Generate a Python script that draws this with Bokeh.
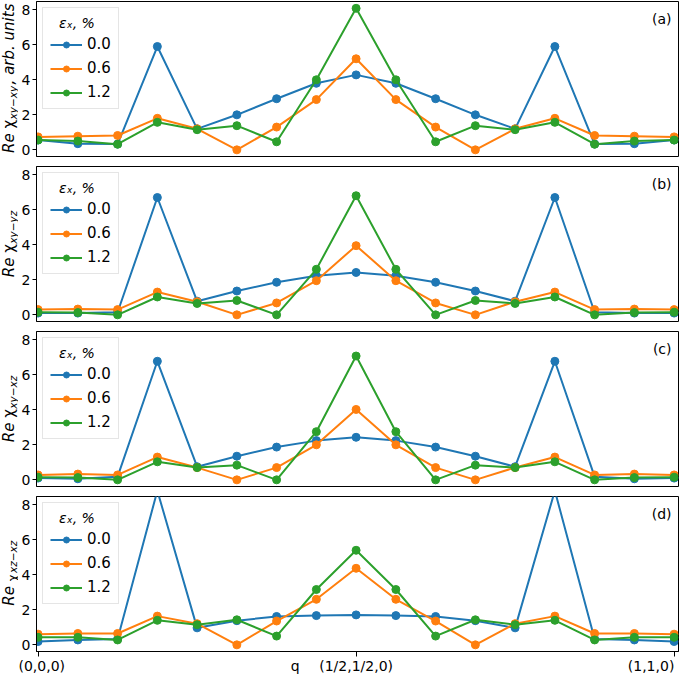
import math
from bokeh.plotting import figure
from bokeh.layouts import column, row
from bokeh.models import Label, FixedTicker, Range1d, LinearAxis
from bokeh.embed import file_html
from bokeh.resources import INLINE

q_index = list(range(17))
series_names = ["0.0", "0.6", "1.2"]
x_tick_pos = [0, 8, 16]
x_tick_labels = ["(0,0,0)", "(1/2,1/2,0)", "(1,1,0)"]
# where the bottom texts sit (the last one is pulled inside the frame, as in the reference)
x_label_pos = [0, 8, 15.42]
q_label_pos = 6.47
y_ticks = [0, 2, 4, 6, 8]

a_00 = [0.56, 0.35, 0.33, 5.9, 1.2, 2.0, 2.92, 3.8, 4.28, 3.8, 2.92, 2.0, 1.2, 5.9, 0.33, 0.35, 0.56]
a_06 = [0.74, 0.78, 0.82, 1.8, 1.2, 0.0, 1.3, 2.87, 5.2, 2.87, 1.3, 0.0, 1.2, 1.8, 0.82, 0.78, 0.74]
a_12 = [0.56, 0.5, 0.32, 1.57, 1.15, 1.38, 0.46, 4.0, 8.08, 4.0, 0.46, 1.38, 1.15, 1.57, 0.32, 0.5, 0.56]

b_00 = [0.1, 0.1, 0.15, 6.7, 0.78, 1.36, 1.86, 2.23, 2.42, 2.23, 1.86, 1.36, 0.78, 6.7, 0.15, 0.1, 0.1]
b_06 = [0.3, 0.33, 0.3, 1.3, 0.75, 0.0, 0.68, 1.95, 3.95, 1.95, 0.68, 0.0, 0.75, 1.3, 0.3, 0.33, 0.3]
b_12 = [0.15, 0.13, 0.0, 1.02, 0.65, 0.82, 0.0, 2.6, 6.8, 2.6, 0.0, 0.82, 0.65, 1.02, 0.0, 0.13, 0.15]

c_00 = [0.1, 0.06, 0.18, 6.77, 0.75, 1.35, 1.87, 2.24, 2.43, 2.24, 1.87, 1.35, 0.75, 6.77, 0.18, 0.06, 0.1]
c_06 = [0.28, 0.33, 0.28, 1.3, 0.7, 0.0, 0.7, 2.0, 4.02, 2.0, 0.7, 0.0, 0.7, 1.3, 0.28, 0.33, 0.28]
c_12 = [0.15, 0.13, 0.0, 1.03, 0.7, 0.84, 0.0, 2.75, 7.07, 2.75, 0.0, 0.84, 0.7, 1.03, 0.0, 0.13, 0.15]

d_00 = [0.19, 0.28, 0.33, 8.8, 0.97, 1.38, 1.62, 1.67, 1.71, 1.67, 1.62, 1.38, 0.97, 8.8, 0.33, 0.28, 0.19]
d_06 = [0.61, 0.65, 0.65, 1.64, 1.21, 0.0, 1.36, 2.6, 4.37, 2.6, 1.36, 0.0, 1.21, 1.64, 0.65, 0.65, 0.61]
d_12 = [0.43, 0.43, 0.28, 1.4, 1.15, 1.43, 0.5, 3.16, 5.4, 3.16, 0.5, 1.43, 1.15, 1.4, 0.28, 0.43, 0.43]

panel_tags = ["(a)", "(b)", "(c)", "(d)"]
ylabel_parts = [
    [("Re ", 15, "italic", False), ("\u03c7", 15, "normal", False), ("xy\u2212xy", 10.5, "italic", True), (", arb. units", 15, "italic", False)],
    [("Re ", 15, "italic", False), ("\u03c7", 15, "normal", False), ("xy\u2212yz", 10.5, "italic", True)],
    [("Re ", 15, "italic", False), ("\u03c7", 15, "normal", False), ("xy\u2212xz", 10.5, "italic", True)],
    [("Re ", 15, "italic", False), ("\u03c7", 11.5, "normal", True), ("xz\u2212xz", 10.5, "italic", True)],
]
panels = [(a_00, a_06, a_12), (b_00, b_06, b_12), (c_00, c_06, c_12), (d_00, d_06, d_12)]

colors = ["#1f77b4", "#ff7f0e", "#2ca02c"]
FONT = "DejaVu Sans"

W = {"R": 0.695, "e": 0.615, " ": 0.318, "\u03c7": 0.6, "x": 0.592, "y": 0.592, "z": 0.525,
     "\u2212": 0.838, ",": 0.318, "a": 0.613, "r": 0.411, "b": 0.635, ".": 0.318, "u": 0.634,
     "n": 0.634, "i": 0.278, "t": 0.392, "s": 0.521}


def text_width(t, size):
    return sum(W.get(ch, 0.6) for ch in t) * size


LW = 18          # strip that carries the rotated y-axis title
FRAME_W = 642
FRAME_H = 155
LEFT = 16

rows = []
for i, (s0, s1, s2) in enumerate(panels):
    last = i == 3
    top = 1 if i == 0 else 5
    bottom = 23 if last else 5

    lf = figure(frame_width=LW, frame_height=FRAME_H,
                x_range=Range1d(0, 1), y_range=Range1d(0, 1),
                x_axis_location=None, y_axis_location=None,
                output_backend="svg", toolbar_location=None,
                min_border_left=0, min_border_right=0,
                min_border_top=top, min_border_bottom=bottom)
    lf.grid.visible = False
    lf.outline_line_color = None
    parts = ylabel_parts[i]
    total = sum(text_width(t, s) for t, s, _, _ in parts)
    ypos = FRAME_H / 2 - total / 2
    for t, s, style, sub in parts:
        lf.add_layout(Label(x=12 if sub else 8, y=ypos, x_units="screen", y_units="screen",
                            angle=math.pi / 2, text=t, text_font=FONT, text_font_size=f"{s}px",
                            text_font_style=style, text_align="left", text_baseline="middle",
                            text_color="black"))
        ypos += text_width(t, s) + (1.5 if sub else 0)

    p = figure(
        frame_width=FRAME_W, frame_height=FRAME_H,
        x_range=Range1d(-0.04, 16.11), y_range=Range1d(-0.38, 8.47),
        output_backend="svg", toolbar_location=None,
        min_border_left=LEFT, min_border_right=1,
        min_border_top=top, min_border_bottom=bottom,
    )
    p.grid.visible = False
    p.outline_line_color = "black"
    p.outline_line_width = 1
    p.outline_line_alpha = 1.0

    for ys, name, col in zip((s0, s1, s2), series_names, colors):
        p.line(q_index, ys, line_color=col, line_width=2, legend_label=name)
        p.scatter(q_index, ys, size=8, fill_color=col, line_color=col, legend_label=name)

    yax = p.yaxis[0]
    yax.ticker = FixedTicker(ticks=y_ticks)
    yax.minor_tick_line_color = None
    yax.major_tick_out = 4
    yax.major_tick_in = 0
    yax.major_label_standoff = 2
    yax.major_label_text_font = FONT
    yax.major_label_text_font_size = "14px"
    yax.major_label_text_color = "black"
    yax.axis_line_color = "black"

    xax = p.xaxis[0]
    if last:
        xax.ticker = FixedTicker(ticks=x_tick_pos)
        xax.minor_tick_line_color = None
        xax.major_tick_out = 5
        xax.major_tick_in = 0
        xax.major_label_standoff = 0
        xax.major_label_text_font_size = "1px"
        xax.major_label_text_color = None
        overrides = {k: v for k, v in zip(x_label_pos, x_tick_labels)}
        overrides[q_label_pos] = "q"
        lab_ax = LinearAxis(ticker=FixedTicker(ticks=x_label_pos + [q_label_pos]),
                            major_label_overrides=overrides,
                            major_tick_out=0, major_tick_in=0, minor_tick_out=0, minor_tick_in=0,
                            axis_line_color=None, major_tick_line_color=None, minor_tick_line_color=None,
                            major_label_standoff=1, major_label_text_font=FONT,
                            major_label_text_font_size="14px", major_label_text_color="black")
        p.add_layout(lab_ax, "below")
    else:
        xax.visible = False

    lg = p.legend[0]
    lg.location = "top_left"
    lg.title = "\u00a0\u00a0\u03b5\u2093, %"
    lg.title_text_font = FONT
    lg.title_text_font_size = "14px"
    lg.title_text_font_style = "italic"
    lg.title_text_color = "black"
    lg.title_standoff = 4
    lg.label_text_font = FONT
    lg.label_text_font_size = "15px"
    lg.label_text_color = "black"
    lg.glyph_width = 32
    lg.glyph_height = 15
    lg.label_height = 15
    lg.spacing = 6
    lg.padding = 7
    lg.margin = 6
    lg.border_line_color = "#cccccc"
    lg.border_line_width = 1
    lg.background_fill_alpha = 0.85

    p.add_layout(Label(x=FRAME_W - 7, y=FRAME_H - 9, x_units="screen", y_units="screen",
                       text=panel_tags[i], text_font=FONT, text_font_size="14px",
                       text_align="right", text_baseline="top", text_color="black"))

    rows.append(row(lf, p, spacing=0))

layout = column(*rows, spacing=0)
open("out.html", "w").write(file_html(layout, INLINE))
